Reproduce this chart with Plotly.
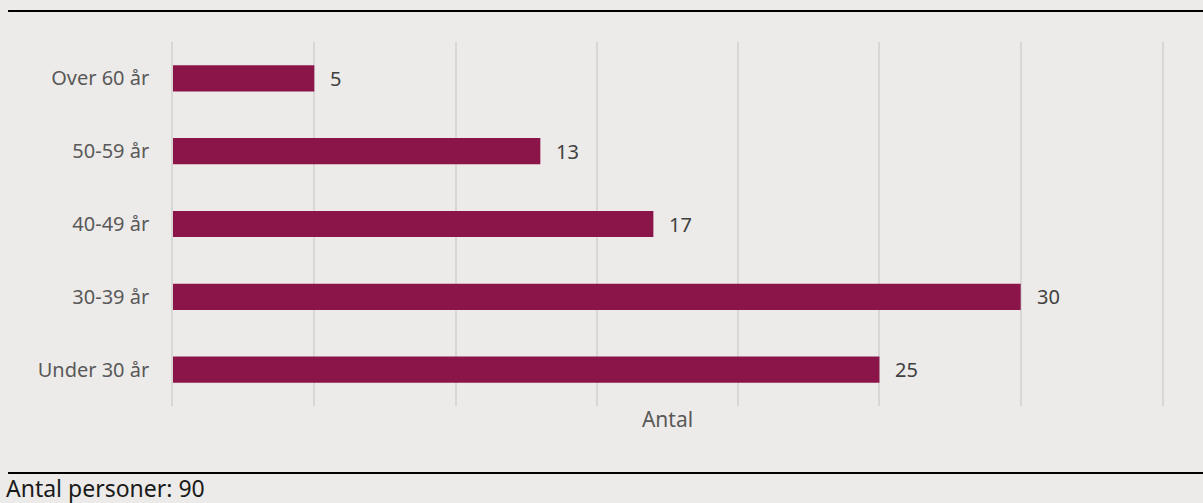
import plotly.graph_objects as go

categories = ["Under 30 år", "30-39 år", "40-49 år", "50-59 år", "Over 60 år"]
values = [25, 30, 17, 13, 5]
axis_title = "Antal"
footnote = "Antal personer: 90"

BG = "#edebe9"
BAR = "#8b1549"
GRID = "#d9d7d5"
FONT = "Noto Sans"

fig = go.Figure()
fig.add_trace(go.Bar(
    y=categories, x=values, orientation="h",
    marker=dict(color=BAR, line=dict(width=0)),
    hoverinfo="skip",
))

for c, v in zip(categories, values):
    fig.add_annotation(x=v, y=c, text=str(v), xanchor="left", xshift=14,
                       showarrow=False, font=dict(family=FONT, size=20, color="#404040"))

# decorative rules
fig.add_shape(type="line", xref="paper", yref="paper", x0=-0.1668, x1=1.05,
              y0=1.0852, y1=1.0852, line=dict(color="black", width=2))
fig.add_shape(type="line", xref="paper", yref="paper", x0=-0.1668, x1=1.05,
              y0=-0.184, y1=-0.184, line=dict(color="black", width=2))

fig.add_annotation(xref="paper", yref="paper", x=-0.1705, y=-0.224, text=footnote,
                   xanchor="left", yanchor="middle", showarrow=False,
                   font=dict(family=FONT, size=23, color="#1a1a1a"))

fig.update_layout(
    width=1203, height=503,
    margin=dict(l=173, r=41, t=42, b=97),
    paper_bgcolor=BG, plot_bgcolor=BG,
    bargap=0.64,
    showlegend=False,
    font=dict(family=FONT, size=20, color="#595959"),
    xaxis=dict(range=[0, 35], dtick=5, showticklabels=False, showgrid=True,
               gridcolor=GRID, gridwidth=1.5, zeroline=False, showline=False,
               title=dict(text=axis_title, standoff=6,
                          font=dict(family=FONT, size=21, color="#595959"))),
    yaxis=dict(categoryorder="array", categoryarray=categories, showgrid=False,
               zeroline=False, showline=True, mirror=True, linecolor=GRID, linewidth=1.5,
               ticklabelstandoff=18,
               tickfont=dict(family=FONT, size=20, color="#595959")),
)

fig.write_html("out.html", config={"displayModeBar": False})

with open("out.html", "r", encoding="utf-8") as f:
    html = f.read()
html = html.replace("<head>", "<head><style>html,body{margin:0;padding:0;background:%s;}</style>" % BG, 1)
with open("out.html", "w", encoding="utf-8") as f:
    f.write(html)
